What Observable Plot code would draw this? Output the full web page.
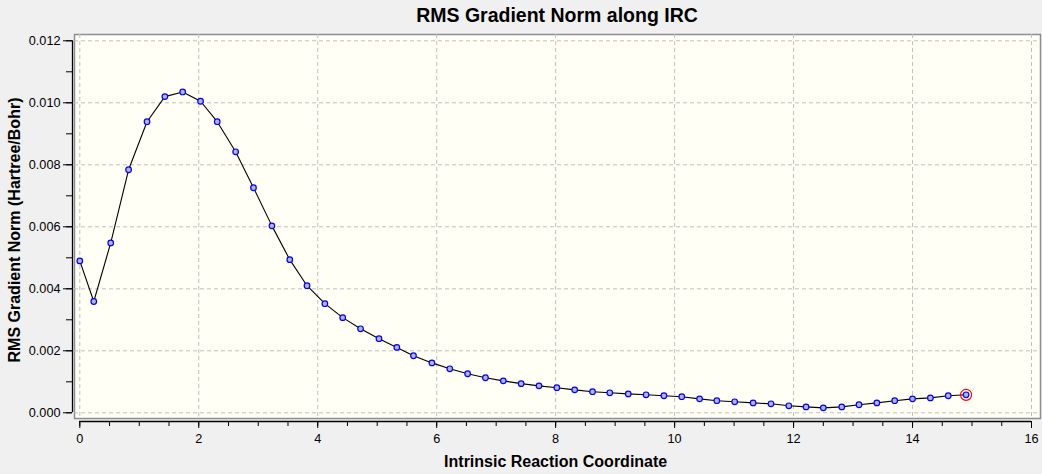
<!DOCTYPE html>
<html>
<head>
<meta charset="utf-8">
<script src="https://cdn.jsdelivr.net/npm/d3@7"></script>
<script src="https://cdn.jsdelivr.net/npm/@observablehq/plot@0.6"></script>
<style>
  html, body { margin: 0; padding: 0; background: #f0f0f0; width: 1042px; height: 474px; overflow: hidden; }
  #title { position: absolute; top: 6px; left: 72px; width: 970px; text-align: center;
    font: bold 19.5px "Liberation Sans", Arial, sans-serif; line-height: 19.5px; color: #000; }
  #ylabel { position: absolute; left: 15px; top: 230px; width: 0; height: 0; }
  #ylabel span { position: absolute; left: 0; top: 0; white-space: nowrap;
    transform: translate(-50%, -50%) rotate(-90deg);
    font: bold 16px "Liberation Sans", Arial, sans-serif; line-height: 16px; color: #000; }
  #chart { position: absolute; top: 34px; left: 0; }
</style>
</head>
<body>
<div id="title"></div>
<div id="ylabel"><span></span></div>
<div id="chart"></div>
<script>
const titleText = "RMS Gradient Norm along IRC";
const xLabel = "Intrinsic Reaction Coordinate";
const yLabel = "RMS Gradient Norm (Hartree/Bohr)";

const irc = [0, 0.235, 0.52, 0.82, 1.13, 1.43, 1.73, 2.03, 2.31, 2.62,
  2.92, 3.23, 3.53, 3.82, 4.12, 4.42, 4.72, 5.03, 5.33, 5.61,
  5.92, 6.22, 6.52, 6.82, 7.12, 7.42, 7.72, 8.02, 8.32, 8.62,
  8.91, 9.22, 9.52, 9.82, 10.12, 10.42, 10.71, 11.01, 11.32, 11.62,
  11.92, 12.21, 12.50, 12.81, 13.10, 13.40, 13.70, 14.00, 14.30, 14.60,
  14.90];
const gradNorm = [0.00490, 0.00359, 0.00548, 0.00784, 0.00939, 0.01020, 0.01035, 0.01005, 0.00939, 0.00842,
  0.00726, 0.00603, 0.00494, 0.00410, 0.00352, 0.00307, 0.00271, 0.00239, 0.00211, 0.00184,
  0.00161, 0.00142, 0.00126, 0.00113, 0.00103, 0.00094, 0.00087, 0.00081, 0.00074, 0.00068,
  0.000645, 0.00061, 0.00058, 0.00055, 0.00052, 0.00045, 0.00039, 0.000355, 0.00032, 0.00029,
  0.000226, 0.00019, 0.00016, 0.00019, 0.00026, 0.00032, 0.00039, 0.00045, 0.00048, 0.00055,
  0.00058];

const xTicks = [0, 2, 4, 6, 8, 10, 12, 14, 16];
const xMinorTicks = [0, 0.5, 1, 1.5, 2, 2.5, 3, 3.5, 4, 4.5, 5, 5.5, 6, 6.5, 7, 7.5, 8, 8.5, 9, 9.5, 10, 10.5, 11, 11.5, 12, 12.5, 13, 13.5, 14, 14.5, 15, 15.5, 16];
const yTicks = [0, 0.002, 0.004, 0.006, 0.008, 0.010, 0.012];
const yMinorTicks = [0, 0.001, 0.002, 0.003, 0.004, 0.005, 0.006, 0.007, 0.008, 0.009, 0.010, 0.011, 0.012];

const rows = irc.map((x, i) => ({x, y: gradNorm[i]}));
const lastRow = [rows[rows.length - 1]];

const W = 1042, H = 440;
const mL = 79.3, mR = 11, mT = 6.3, mB = 61.7;
const fL = -5.3, fR = -9, fT = -6.3, fB = -5.7;
const grid = {stroke: "#c0c0c0", strokeWidth: 1, strokeDasharray: "4,3"};

const chart = Plot.plot({
  width: W, height: H,
  marginLeft: mL, marginRight: mR, marginTop: mT, marginBottom: mB,
  x: {domain: [0, 16], axis: null},
  y: {domain: [0, 0.012], axis: null},
  style: {background: "transparent", fontFamily: "'Liberation Sans', Arial, sans-serif", fontSize: "12.7px", color: "#000", overflow: "visible"},
  marks: [
    Plot.frame({fill: "#fffff5", stroke: "#8a8e98", strokeWidth: 1.5, insetLeft: fL, insetRight: fR, insetTop: fT, insetBottom: fB}),
    Plot.ruleX(xTicks, {...grid, insetTop: fT, insetBottom: fB}),
    Plot.ruleY(yTicks, {...grid, insetLeft: fL, insetRight: fR}),
    // axis lines
    Plot.ruleX([0], {dx: -7.3, stroke: "#000", strokeWidth: 1.3}),
    Plot.ruleY([0], {dy: 8.7, stroke: "#000", strokeWidth: 1.3}),
    // minor ticks
    Plot.axisX({ticks: xMinorTicks, tickSize: 5, text: null, label: null, dy: 8.7, stroke: "#000"}),
    Plot.axisY({ticks: yMinorTicks, tickSize: 6, text: null, label: null, dx: -7.3, stroke: "#000"}),
    // major ticks with labels
    Plot.axisX({ticks: xTicks, tickSize: 7, tickPadding: 5, tickFormat: d3.format("d"), label: null, dy: 8.7, stroke: "#000", fill: "#000"}),
    Plot.axisY({ticks: yTicks, tickSize: 9, tickPadding: 3, tickFormat: d3.format(".3f"), label: null, dx: -7.3, stroke: "#000", fill: "#000"}),
    // data
    Plot.line(rows, {x: "x", y: "y", stroke: "#000", strokeWidth: 1.1}),
    Plot.dot(rows, {x: "x", y: "y", r: 2.8, fill: "#b4b6c4", stroke: "#0000ff", strokeWidth: 1.2}),
    Plot.dot(lastRow, {x: "x", y: "y", r: 5.5, fill: "none", stroke: "#ff0000", strokeWidth: 1.2}),
    // x axis title
    Plot.text([xLabel], {frameAnchor: "bottom", dy: 49, lineAnchor: "middle", fontWeight: "bold", fontSize: 16, fill: "#000"})
  ]
});
document.getElementById("title").textContent = titleText;
document.querySelector("#ylabel span").textContent = yLabel;
document.getElementById("chart").appendChild(chart);
</script>
</body>
</html>
